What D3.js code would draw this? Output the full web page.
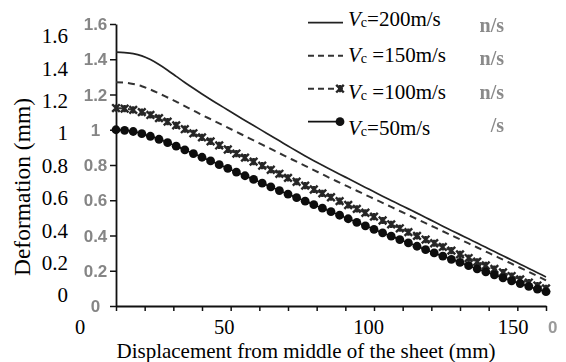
<!DOCTYPE html>
<html>
<head>
<meta charset="utf-8">
<script src="https://cdn.jsdelivr.net/npm/d3@7"></script>
<style>
  html, body { margin: 0; padding: 0; background: #fff; }
  svg { display: block; }
  text { font-family: "Liberation Serif", "Times New Roman", serif; fill: #000; }
</style>
</head>
<body>
<svg id="chart" width="566" height="362"></svg>
<script>
// Distance from the middle of the sheet (mm) at which deformation was sampled
const distance = [0, 3, 6, 9, 12, 15, 18, 21, 24, 27, 30, 33, 36, 39, 42, 45, 48, 51, 54, 57,
  60, 63, 66, 69, 72, 75, 78, 81, 84, 87, 90, 93, 96, 99, 102, 105, 108, 111, 114, 117,
  120, 123, 126, 129, 132, 135, 138, 141, 144, 147, 150];

// Deformation (mm) for each impact velocity
const v200 = [1.440, 1.438, 1.432, 1.419, 1.398, 1.370, 1.338, 1.303, 1.268, 1.235,
  1.203, 1.172, 1.142, 1.112, 1.082, 1.053, 1.024, 0.995, 0.966, 0.937,
  0.908, 0.879, 0.851, 0.824, 0.798, 0.773, 0.748, 0.723, 0.698, 0.673,
  0.648, 0.623, 0.599, 0.575, 0.551, 0.527, 0.502, 0.478, 0.453, 0.429,
  0.405, 0.381, 0.357, 0.333, 0.309, 0.285, 0.261, 0.237, 0.213, 0.189, 0.165];
const v150 = [1.270, 1.268, 1.260, 1.247, 1.228, 1.206, 1.183, 1.160, 1.134, 1.109,
  1.084, 1.060, 1.036, 1.012, 0.988, 0.964, 0.940, 0.915, 0.891, 0.867,
  0.843, 0.819, 0.795, 0.771, 0.747, 0.723, 0.700, 0.677, 0.654, 0.631,
  0.608, 0.585, 0.562, 0.539, 0.516, 0.493, 0.470, 0.447, 0.424, 0.401,
  0.378, 0.355, 0.332, 0.309, 0.286, 0.263, 0.240, 0.217, 0.194, 0.170, 0.145];
const v100 = [1.123, 1.120, 1.113, 1.100, 1.084, 1.066, 1.046, 1.025, 1.003, 0.980,
  0.957, 0.934, 0.911, 0.888, 0.865, 0.842, 0.819, 0.796, 0.773, 0.750,
  0.727, 0.705, 0.683, 0.661, 0.639, 0.617, 0.595, 0.573, 0.551, 0.529,
  0.507, 0.485, 0.463, 0.441, 0.419, 0.398, 0.377, 0.356, 0.335, 0.314,
  0.293, 0.272, 0.251, 0.230, 0.210, 0.190, 0.170, 0.151, 0.133, 0.116, 0.100];
const v50 = [1.000, 0.997, 0.990, 0.978, 0.963, 0.946, 0.927, 0.907, 0.886, 0.865,
  0.844, 0.823, 0.802, 0.781, 0.760, 0.739, 0.718, 0.697, 0.676, 0.655,
  0.635, 0.615, 0.595, 0.575, 0.555, 0.535, 0.515, 0.495, 0.475, 0.455,
  0.435, 0.415, 0.396, 0.377, 0.358, 0.339, 0.320, 0.301, 0.283, 0.265,
  0.247, 0.229, 0.211, 0.194, 0.177, 0.160, 0.143, 0.127, 0.111, 0.096, 0.081];

const legendSpeeds = ["200", "150", "100", "50"];
const legendGap = ["", " ", " ", ""];

const yTickValues = [0, 0.2, 0.4, 0.6, 0.8, 1, 1.2, 1.4, 1.6];
const yTickLabels = ["0", "0.2", "0.4", "0.6", "0.8", "1", "1.2", "1.4", "1.6"];
const xTickValues = [0, 10, 20, 30, 40, 50, 60, 70, 80, 90, 100, 110, 120, 130, 140, 150];
const xLabelValues = [0, 50, 100, 150];
const xLabelTexts = ["0", "50", "100", "150"];
const faintLegendTails = ["n/s", "n/s", "n/s", "/s"];

const svg = d3.select("#chart");

// Plot scales
const x = d3.scaleLinear().domain([0, 150]).range([116, 546]);
const y = d3.scaleLinear().domain([0, 1.6]).range([306, 24]);
// Scales for the printed tick numbers set beside the axes
const yText = d3.scaleLinear().domain([0, 1.6]).range([295, 36]);
const xText = d3.scaleLinear().domain([0, 150]).range([80, 513]);

const defs = svg.append("defs");
defs.append("filter").attr("id", "soft")
  .append("feGaussianBlur").attr("stdDeviation", 0.7);
defs.append("filter").attr("id", "softer")
  .append("feGaussianBlur").attr("stdDeviation", 0.45);

// Axes: tick marks only
const yAxis = svg.append("g").attr("transform", `translate(${x(0)},0)`)
  .call(d3.axisLeft(y).tickValues(yTickValues).tickFormat("").tickSize(6).tickSizeOuter(0));
const xAxis = svg.append("g").attr("transform", `translate(0,${y(0)})`)
  .call(d3.axisBottom(x).tickValues(xTickValues).tickFormat("").tickSize(5).tickSizeOuter(0));
[yAxis, xAxis].forEach(g => {
  g.select(".domain").attr("stroke", "#111").attr("stroke-width", 1.8);
  g.selectAll(".tick line").attr("stroke", "#111").attr("stroke-width", 1.5);
});

// Faint grey tick numbers at the tick positions
const faint = svg.append("g").attr("filter", "url(#soft)");
faint.selectAll("text.fy").data(yTickValues).join("text")
  .attr("class", "fy")
  .attr("x", 95.5).attr("y", d => y(d)).attr("dy", "0.36em")
  .attr("text-anchor", "middle").attr("font-size", 17)
  .style("font-family", "'Liberation Sans Narrow', 'Liberation Sans', sans-serif")
  .style("font-weight", "bold")
  .style("fill", "#858585")
  .text((d, i) => yTickLabels[i]);
faint.append("text")
  .attr("x", x(150) + 2).attr("y", y(0) + 27)
  .attr("font-size", 17)
  .style("font-family", "'Liberation Sans Narrow', 'Liberation Sans', sans-serif")
  .style("font-weight", "bold")
  .style("fill", "#9a9a9a")
  .text("0");
faint.selectAll("text.fl").data(faintLegendTails).join("text")
  .attr("class", "fl")
  .attr("x", 504)
  .attr("y", (d, i) => d3.scaleLinear().domain([0, 3]).range([32, 132])(i))
  .attr("text-anchor", "end").attr("font-size", 20)
  .style("font-weight", "bold")
  .style("fill", "#8a8a8a")
  .text(d => d);

// Black tick numbers
svg.append("g").selectAll("text").data(yTickValues).join("text")
  .attr("x", 68).attr("y", d => yText(d)).attr("dy", "0.35em")
  .attr("text-anchor", "end").attr("font-size", 21)
  .text((d, i) => yTickLabels[i]);
svg.append("g").selectAll("text").data(xLabelValues).join("text")
  .attr("x", d => xText(d)).attr("y", 334)
  .attr("text-anchor", "middle").attr("font-size", 20.5)
  .text((d, i) => xLabelTexts[i]);

// Axis titles
svg.append("text")
  .attr("x", 306).attr("y", 357.5)
  .attr("text-anchor", "middle").attr("font-size", 21)
  .text("Displacement from middle of the sheet (mm)");
svg.append("text")
  .attr("transform", "translate(30,187) rotate(-90)")
  .attr("text-anchor", "middle").attr("font-size", 23.5)
  .text("Deformation (mm)");

// Series
const series = [
  { values: v200, dash: null, width: 1.7, color: "#222", marker: null },
  { values: v150, dash: "7,5", width: 2, color: "#333", marker: null },
  { values: v100, dash: "7,5", width: 2, color: "#333", marker: "cross" },
  { values: v50, dash: null, width: 1.7, color: "#111", marker: "dot" }
];

const line = d3.line()
  .x((d, i) => x(distance[i]))
  .y(d => y(d))
  .curve(d3.curveMonotoneX);

const crossPath = "M-3.8,-3.8L3.8,3.8M-3.8,3.8L3.8,-3.8M0,-3.6L0,3.6";

function drawMarker(sel, kind) {
  if (kind === "dot") {
    sel.append("circle").attr("r", 4.4).attr("fill", "#111");
  } else if (kind === "cross") {
    sel.append("path").attr("d", crossPath)
      .attr("stroke", "#262626").attr("stroke-width", 2.4).attr("fill", "none");
  }
}

series.forEach(s => {
  const g = svg.append("g").attr("filter", "url(#softer)");
  g.append("path")
    .datum(s.values)
    .attr("d", line)
    .attr("fill", "none")
    .attr("stroke", s.color)
    .attr("stroke-width", s.width)
    .attr("stroke-dasharray", s.dash);
  if (s.marker) {
    g.append("g").selectAll("g").data(s.values).join("g")
      .attr("transform", (d, i) => `translate(${x(distance[i])},${y(d)})`)
      .each(function () { drawMarker(d3.select(this), s.marker); });
  }
});

// Legend
const legendLineY = d3.scaleLinear().domain([0, 3]).range([22.7, 121.7]);
const legendTextY = d3.scaleLinear().domain([0, 3]).range([26, 135]);
const legend = svg.append("g");
series.forEach((s, i) => {
  const ly = legendLineY(i);
  legend.append("line")
    .attr("x1", 308).attr("x2", 343).attr("y1", ly).attr("y2", ly)
    .attr("stroke", s.color).attr("stroke-width", s.width)
    .attr("stroke-dasharray", s.dash ? "6,4" : null);
  if (s.marker) {
    const m = legend.append("g").attr("transform", `translate(340,${ly})`);
    drawMarker(m, s.marker);
  }
  const t = legend.append("text")
    .attr("x", 348).attr("y", legendTextY(i)).attr("font-size", 21);
  t.append("tspan").style("font-style", "italic").text("V");
  t.append("tspan").attr("font-size", 14).attr("dy", 1).text("c");
  t.append("tspan").attr("dy", -1).text(legendGap[i] + "=" + legendSpeeds[i] + "m/s");
});
</script>
</body>
</html>
